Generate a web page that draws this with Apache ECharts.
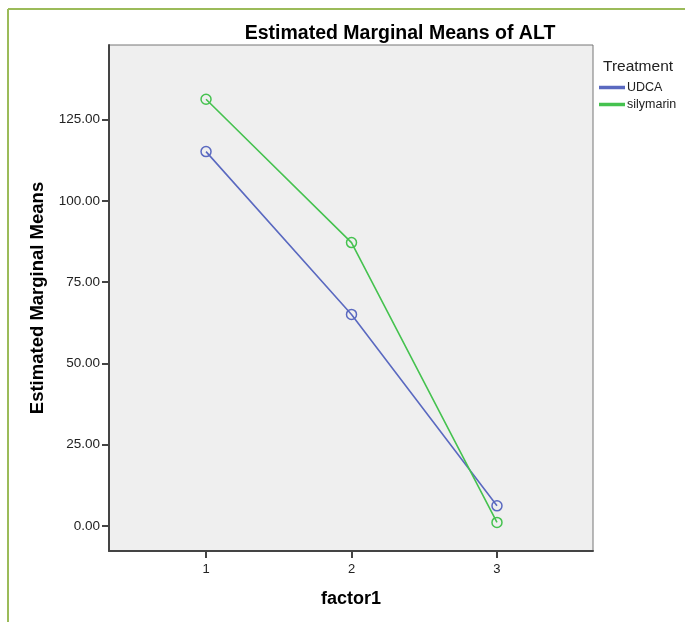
<!DOCTYPE html>
<html>
<head>
<meta charset="utf-8">
<script src="https://cdn.jsdelivr.net/npm/echarts@6/dist/echarts.min.js"></script>
<style>
html,body{margin:0;padding:0;background:#fff;}
#chart{width:685px;height:622px;}
</style>
</head>
<body>
<div id="chart"></div>
<script>
const factorLevels = [1, 2, 3];
const udcaMeans = [115.2, 65.1, 6.2];
const silymarinMeans = [131.3, 87.2, 1.1];
const yTicks = [0, 25, 50, 75, 100, 125];
const seriesNames = ['UDCA', 'silymarin'];

const chart = echarts.init(document.getElementById('chart'), null, {renderer: 'canvas'});
const font = '"Liberation Sans", Arial, sans-serif';
const pairs = arr => factorLevels.map((f, i) => [f, arr[i]]);

chart.setOption({
  animation: false,
  backgroundColor: '#ffffff',
  graphic: [
    {type: 'line', shape: {x1: 8, y1: 9, x2: 685, y2: 9}, style: {stroke: '#9bbb59', lineWidth: 2}},
    {type: 'line', shape: {x1: 8, y1: 9, x2: 8, y2: 622}, style: {stroke: '#9bbb59', lineWidth: 2}}
  ],
  title: [
    {text: 'Estimated Marginal Means of ALT', left: 395, top: 19, textAlign: 'center',
     textStyle: {fontFamily: font, fontSize: 19.5, fontWeight: 'bold', color: '#000'}},
    {text: 'Treatment', left: 598, top: 54,
     textStyle: {fontFamily: font, fontSize: 15.5, fontWeight: 'normal', color: '#222'}}
  ],
  legend: {
    orient: 'vertical', left: 594, top: 76, itemGap: 4,
    itemWidth: 24, itemHeight: 1.5, icon: 'rect',
    data: seriesNames,
    textStyle: {fontFamily: font, fontSize: 12.5, color: '#222', padding: [0, 0, 0, -2], lineHeight: 13}
  },
  grid: {left: 109, top: 45, right: 92, bottom: 71, show: true,
    backgroundColor: '#efefef', borderColor: '#777', borderWidth: 1},
  xAxis: {
    type: 'value', min: 0.333, max: 3.66,
    name: 'factor1', nameLocation: 'middle', nameGap: 39,
    nameTextStyle: {fontFamily: font, fontSize: 18, fontWeight: 'bold', color: '#000'},
    axisLine: {show: true, onZero: false, lineStyle: {color: '#444', width: 2}},
    axisTick: {show: true, length: 7, customValues: factorLevels, lineStyle: {color: '#444', width: 2}},
    axisLabel: {customValues: factorLevels, margin: 12, fontFamily: font, fontSize: 13, color: '#222'},
    splitLine: {show: false}
  },
  yAxis: {
    type: 'value', min: -7.7, max: 148,
    name: 'Estimated Marginal Means', nameLocation: 'middle', nameGap: 58,
    nameTextStyle: {fontFamily: font, fontSize: 18.5, fontWeight: 'bold', color: '#000'},
    axisLine: {show: true, onZero: false, lineStyle: {color: '#444', width: 2}},
    axisTick: {show: true, length: 7, customValues: yTicks, lineStyle: {color: '#444', width: 2}},
    axisLabel: {customValues: yTicks, margin: 9, fontFamily: font, fontSize: 13.5, color: '#222',
      formatter: v => v.toFixed(2)},
    splitLine: {show: false}
  },
  series: [
    {name: seriesNames[0], type: 'line', data: pairs(udcaMeans),
     symbol: 'circle', symbolSize: 10, color: '#5a69c0',
     lineStyle: {color: '#5a69c0', width: 1.6},
     itemStyle: {color: 'rgba(0,0,0,0)', borderColor: '#5a69c0', borderWidth: 1.5}},
    {name: seriesNames[1], type: 'line', data: pairs(silymarinMeans),
     symbol: 'circle', symbolSize: 10, color: '#45c24f',
     lineStyle: {color: '#45c24f', width: 1.6},
     itemStyle: {color: 'rgba(0,0,0,0)', borderColor: '#45c24f', borderWidth: 1.5}}
  ]
});
</script>
</body>
</html>
